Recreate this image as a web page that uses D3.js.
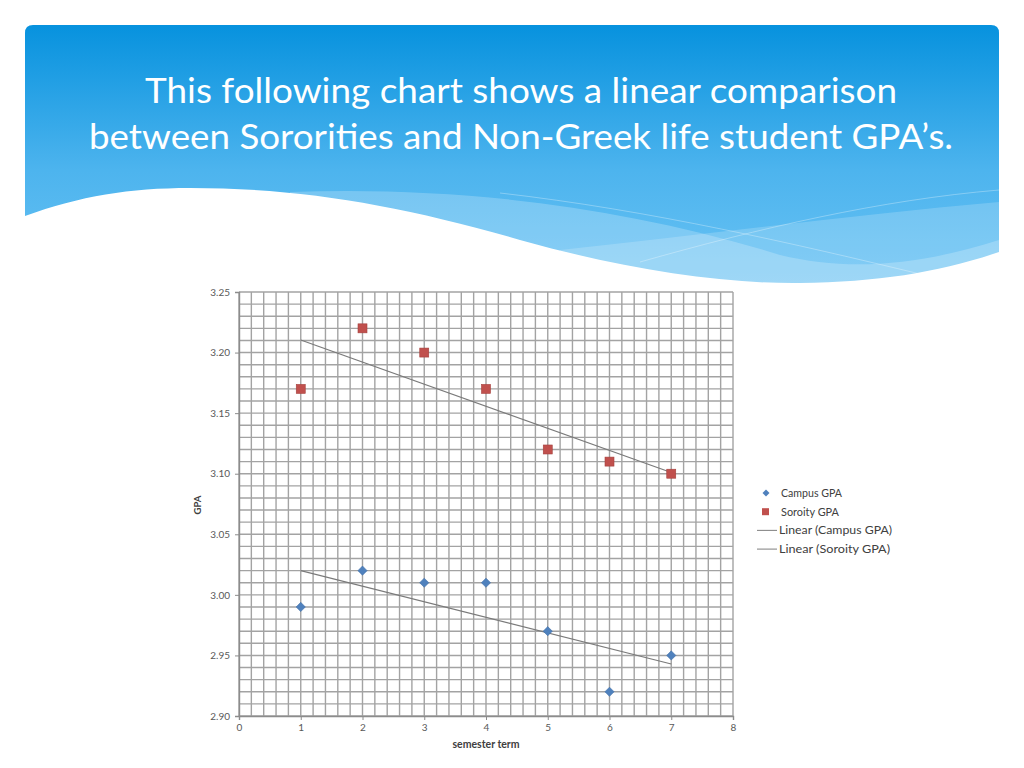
<!DOCTYPE html>
<html>
<head>
<meta charset="utf-8">
<script src="https://cdn.jsdelivr.net/npm/d3@7"></script>
<style>
  body { margin: 0; background: #fff; }
  svg { display: block; }
</style>
</head>
<body>
<div id="chart"></div>
<script>
// data
const terms = [1, 2, 3, 4, 5, 6, 7]
const campusGPA = [2.99, 3.02, 3.01, 3.01, 2.97, 2.92, 2.95]
const sororityGPA = [3.17, 3.22, 3.20, 3.17, 3.12, 3.11, 3.10]
const yTicks = [2.90, 2.95, 3.00, 3.05, 3.10, 3.15, 3.20, 3.25]
const xTicks = [0, 1, 2, 3, 4, 5, 6, 7, 8]
const titleLines = [
  'This following chart shows a linear comparison',
  'between Sororities and Non-Greek life student GPA\u2019s.'
]
const legendLabels = ['Campus GPA', 'Soroity GPA', 'Linear (Campus GPA)', 'Linear (Soroity GPA)']

const W = 1024, H = 768
const font = 'Lato, "Open Sans", sans-serif'
const svg = d3.select('#chart').append('svg')
  .attr('width', W)
  .attr('height', H)

// ---- slide background ----
const defs = svg.append('defs')
const grad = defs.append('linearGradient')
  .attr('id', 'sky')
  .attr('x1', 0).attr('y1', 0).attr('x2', 0).attr('y2', 1)
grad.append('stop').attr('offset', '0%').attr('stop-color', '#0792de')
grad.append('stop').attr('offset', '55%').attr('stop-color', '#4db4ee')
grad.append('stop').attr('offset', '100%').attr('stop-color', '#6ac3f4')

defs.append('clipPath').attr('id', 'slideClip')
  .append('path')
  .attr('d', 'M25,33 Q25,25 33,25 L991,25 Q999,25 999,33 L999,290 L25,290 Z')

const bg = svg.append('g').attr('clip-path', 'url(#slideClip)')
bg.append('rect')
  .attr('x', 25).attr('y', 25).attr('width', 974).attr('height', 265)
  .attr('fill', 'url(#sky)')

// lighter translucent wave bands
bg.append('path')
  .attr('d', 'M290,192 C450,186 620,205 780,255 C850,272 920,265 999,240 L999,300 L290,300 Z')
  .attr('fill', '#fff').attr('opacity', 0.22)
bg.append('path')
  .attr('d', 'M560,250 C700,235 850,215 999,202 L999,300 L560,300 Z')
  .attr('fill', '#fff').attr('opacity', 0.18)
bg.append('path')
  .attr('d', 'M500,193 C650,210 800,245 920,274')
  .attr('fill', 'none').attr('stroke', '#fff').attr('stroke-opacity', 0.3).attr('stroke-width', 1)
bg.append('path')
  .attr('d', 'M640,262 C760,228 880,200 999,190')
  .attr('fill', 'none').attr('stroke', '#fff').attr('stroke-opacity', 0.3).attr('stroke-width', 1)

// white wave cutting the bottom of the banner
bg.append('path')
  .attr('d', 'M25,216 C80,196 130,188 190,188 C300,188 400,205 520,240 C620,268 720,284 800,283 C880,282 940,272 999,252 L999,300 L25,300 Z')
  .attr('fill', '#fff')

// title
svg.append('g').selectAll('text')
  .data(titleLines)
  .join('text')
    .attr('x', 521)
    .attr('y', (d, i) => 103 + i * 46)
    .attr('text-anchor', 'middle')
    .attr('fill', '#fff')
    .attr('font-family', font)
    .attr('font-size', 35)
    .attr('textLength', (d, i) => i === 0 ? 752 : 864)
    .attr('lengthAdjust', 'spacingAndGlyphs')
    .text(d => d)

// ---- chart ----
const x = d3.scaleLinear().domain([0, 8]).range([239, 733])
const y = d3.scaleLinear().domain([2.90, 3.25]).range([716, 292])

const chart = svg.append('g').attr('class', 'chart')
const gridColor = '#a3a3a3'

// minor grid, 0.2 term by 0.01 GPA
const xGrid = d3.range(0, 41).map(i => i * 0.2)
const yGrid = d3.range(0, 36).map(i => 2.90 + i * 0.01)

chart.append('g').selectAll('line')
  .data(xGrid)
  .join('line')
    .attr('x1', d => x(d)).attr('x2', d => x(d))
    .attr('y1', y(3.25)).attr('y2', y(2.90))
    .attr('stroke', gridColor).attr('stroke-width', 1.4)

chart.append('g').selectAll('line')
  .data(yGrid)
  .join('line')
    .attr('x1', x(0)).attr('x2', x(8))
    .attr('y1', d => y(d)).attr('y2', d => y(d))
    .attr('stroke', gridColor).attr('stroke-width', 1.4)

// axes
const yAxis = chart.append('g')
  .attr('transform', `translate(${x(0)},0)`)
  .call(d3.axisLeft(y).tickValues(yTicks).tickFormat(d3.format('.2f')).tickSize(4).tickPadding(5))
const xAxis = chart.append('g')
  .attr('transform', `translate(0,${y(2.90)})`)
  .call(d3.axisBottom(x).tickValues(xTicks).tickFormat(d3.format('d')).tickSize(4).tickPadding(4))

;[yAxis, xAxis].forEach(a => {
  a.select('.domain').attr('stroke', '#8c8c8c').attr('stroke-width', 1.4)
  a.selectAll('.tick line').attr('stroke', '#8c8c8c')
  a.selectAll('.tick text')
    .attr('fill', '#595959')
    .attr('font-family', font)
    .attr('font-size', 10)
})

// axis titles
chart.append('text')
  .attr('transform', `translate(201,${(y(2.90) + y(3.25)) / 2 + 1}) rotate(-90)`)
  .attr('text-anchor', 'middle')
  .attr('fill', '#404040')
  .attr('font-family', font)
  .attr('font-weight', 'bold')
  .attr('font-size', 9.5)
  .text('GPA')
chart.append('text')
  .attr('x', 486).attr('y', 748)
  .attr('text-anchor', 'middle')
  .attr('fill', '#404040')
  .attr('font-family', font)
  .attr('font-weight', 'bold')
  .attr('font-size', 10.5)
  .text('semester term')

// linear trend lines (least squares over the series)
function fit(xs, ys) {
  const mx = d3.mean(xs), my = d3.mean(ys)
  const b = d3.sum(xs, (v, i) => (v - mx) * (ys[i] - my)) / d3.sum(xs, v => (v - mx) * (v - mx))
  return t => my + b * (t - mx)
}
const trends = [fit(terms, campusGPA), fit(terms, sororityGPA)]
const x0 = d3.min(terms), x1 = d3.max(terms)

chart.append('g').selectAll('line')
  .data(trends)
  .join('line')
    .attr('x1', x(x0)).attr('y1', f => y(f(x0)))
    .attr('x2', x(x1)).attr('y2', f => y(f(x1)))
    .attr('stroke', '#7a7a7a')
    .attr('stroke-width', 1.1)

// markers
const campusPts = terms.map((t, i) => ({ t, v: campusGPA[i] }))
const sororityPts = terms.map((t, i) => ({ t, v: sororityGPA[i] }))

chart.append('g').selectAll('path')
  .data(campusPts)
  .join('path')
    .attr('transform', d => `translate(${x(d.t)},${y(d.v)})`)
    .attr('d', 'M0,-4.6 L4.6,0 L0,4.6 L-4.6,0 Z')
    .attr('fill', '#4f81bd')
    .attr('stroke', '#3f6fa8').attr('stroke-width', 0.6)

chart.append('g').selectAll('rect')
  .data(sororityPts)
  .join('rect')
    .attr('x', d => x(d.t) - 4.5)
    .attr('y', d => y(d.v) - 4.5)
    .attr('width', 9).attr('height', 9)
    .attr('fill', '#c0504d')
    .attr('stroke', '#a5403d').attr('stroke-width', 0.6)

// legend
const legend = svg.append('g').attr('transform', 'translate(757,493)')
const item = legend.selectAll('g')
  .data(legendLabels)
  .join('g')
    .attr('transform', (d, i) => `translate(0,${i * 18.7})`)

item.filter((d, i) => i === 0).append('path')
  .attr('d', 'M9,-3.5 L12.5,0 L9,3.5 L5.5,0 Z')
  .attr('fill', '#4f81bd')
item.filter((d, i) => i === 1).append('rect')
  .attr('x', 5).attr('y', -3.5).attr('width', 7).attr('height', 7)
  .attr('fill', '#c0504d')
item.filter((d, i) => i >= 2).append('line')
  .attr('x1', 0).attr('x2', 20).attr('y1', 0).attr('y2', 0)
  .attr('stroke', '#8a8a8a').attr('stroke-width', 1.1)

item.append('text')
  .attr('x', (d, i) => i < 2 ? 24 : 22)
  .attr('y', 3.8)
  .attr('fill', '#404040')
  .attr('font-family', font)
  .attr('font-size', 10.5)
  .attr('textLength', (d, i) => [61, 58, 113, 111][i])
  .attr('lengthAdjust', 'spacingAndGlyphs')
  .text(d => d)
</script>
</body>
</html>
